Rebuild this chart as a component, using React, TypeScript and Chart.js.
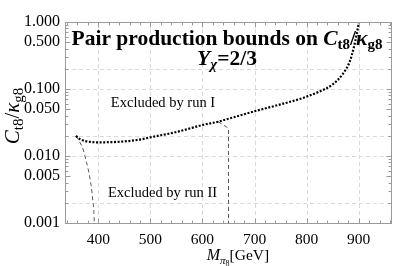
import React, { useEffect, useRef } from "react";
import { Chart, registerables } from "chart.js";

Chart.register(...registerables);

// ---- data ----
const CURVE_X = [357, 365, 375, 390, 400, 425, 450, 480, 500, 550, 600, 630, 650, 700, 750, 787, 800, 825, 850, 870, 883, 890, 896, 900, 903];
const CURVE_Y = [0.0199, 0.0178, 0.0167, 0.0161, 0.016, 0.0161, 0.0165, 0.0176, 0.019, 0.0228, 0.029, 0.0325, 0.036, 0.0465, 0.059, 0.071, 0.077, 0.092, 0.117, 0.17, 0.26, 0.4, 0.65, 0.95, 1.2];
const RUN2A_X = [357.2, 365, 371.2, 376, 380.8, 384.5, 387.3, 389.5, 391.2, 392.3];
const RUN2A_Y = [0.0199, 0.0158, 0.0123, 0.0088, 0.0062, 0.0044, 0.0031, 0.0021, 0.00156, 0.001];
const RUN2B_X = [630, 650, 650];
const RUN2B_Y = [0.0325, 0.026, 0.001];

const X_TICKS = [400, 500, 600, 700, 800, 900];
const Y_TICKS = [0.001, 0.005, 0.01, 0.05, 0.1, 0.5, 1];
const Y_GRID = [0.002, 0.01, 0.02, 0.1, 0.2];
const X_MIN = 336;
const X_MAX = 962;

const SERIF = "'Liberation Serif', 'DejaVu Serif', serif";

type Seg = { t: string; f: string; dy?: number };

function segWidth(ctx: CanvasRenderingContext2D, segs: Seg[]) {
  let w = 0;
  for (const s of segs) {
    ctx.font = s.f;
    w += ctx.measureText(s.t).width;
  }
  return w;
}

function drawSegs(ctx: CanvasRenderingContext2D, segs: Seg[], cx: number, y: number) {
  let x = cx - segWidth(ctx, segs) / 2;
  ctx.textAlign = "left";
  ctx.textBaseline = "alphabetic";
  for (const s of segs) {
    ctx.font = s.f;
    ctx.fillText(s.t, x, y + (s.dy || 0));
    x += ctx.measureText(s.t).width;
  }
}

const decorPlugin = {
  id: "decor",
  beforeDatasetsDraw(chart: any) {
    const { ctx, chartArea: a, scales } = chart;
    const xs = scales.x;
    const ys = scales.y;
    ctx.save();
    ctx.strokeStyle = "#d9d9d9";
    ctx.lineWidth = 1;
    ctx.setLineDash([4, 3]);
    for (const v of X_TICKS) {
      const px = Math.round(xs.getPixelForValue(v)) + 0.5;
      ctx.beginPath();
      ctx.moveTo(px, a.top);
      ctx.lineTo(px, a.bottom);
      ctx.stroke();
    }
    for (const v of Y_GRID) {
      const py = Math.round(ys.getPixelForValue(v)) + 0.5;
      ctx.beginPath();
      ctx.moveTo(a.left, py);
      ctx.lineTo(a.right, py);
      ctx.stroke();
    }
    ctx.restore();
  },
  afterDatasetsDraw(chart: any) {
    const { ctx, chartArea: a, scales } = chart;
    const xs = scales.x;
    const ys = scales.y;
    ctx.save();
    ctx.setLineDash([]);
    ctx.strokeStyle = "#9a9a9a";
    ctx.lineWidth = 1;
    const L = Math.round(a.left) + 0.5;
    const R = Math.round(a.right) + 0.5;
    const T = Math.round(a.top) + 0.5;
    const B = Math.round(a.bottom) + 0.5;
    ctx.strokeRect(L, T, R - L, B - T);
    // x ticks
    for (let v = 340; v <= 960; v += 20) {
      const major = v % 100 === 0;
      const len = major ? 5 : 3;
      const px = Math.round(xs.getPixelForValue(v)) + 0.5;
      ctx.beginPath();
      ctx.moveTo(px, B);
      ctx.lineTo(px, B - len);
      ctx.moveTo(px, T);
      ctx.lineTo(px, T + len);
      ctx.stroke();
    }
    // y ticks
    for (let d = 0.001; d < 1; d *= 10) {
      for (let m = 1; m <= 9; m++) {
        const v = d * m;
        const major = m === 1 || m === 5;
        const len = major ? 5 : 3;
        const py = Math.round(ys.getPixelForValue(v)) + 0.5;
        ctx.beginPath();
        ctx.moveTo(L, py);
        ctx.lineTo(L + len, py);
        ctx.moveTo(R, py);
        ctx.lineTo(R - len, py);
        ctx.stroke();
      }
    }
    ctx.restore();
  },
  afterDraw(chart: any) {
    const { ctx } = chart;
    ctx.save();
    ctx.fillStyle = "#000";
    // title
    const b = (s: number) => `bold ${s}px ${SERIF}`;
    const bi = (s: number) => `italic bold ${s}px ${SERIF}`;
    drawSegs(ctx, [
      { t: "Pair production bounds on ", f: b(21.5) },
      { t: "C", f: bi(21.5) },
      { t: "t8", f: b(15), dy: 4 },
      { t: "/", f: b(21.5) },
      { t: "κ", f: bi(21.5) },
      { t: "g8", f: b(15), dy: 4 },
    ], 227, 45);
    drawSegs(ctx, [
      { t: "Y", f: bi(21.5) },
      { t: "χ", f: bi(15), dy: 4 },
      { t: "=2/3", f: b(21.5) },
    ], 227, 65);
    // annotations
    ctx.font = `14.5px ${SERIF}`;
    ctx.textAlign = "center";
    ctx.textBaseline = "middle";
    ctx.fillText("Excluded by run I", 163, 103);
    ctx.fillText("Excluded by run II", 162.5, 193);
    // x title
    const r = (s: number) => `${s}px ${SERIF}`;
    const it = (s: number) => `italic ${s}px ${SERIF}`;
    drawSegs(ctx, [
      { t: "M", f: it(16) },
      { t: "π", f: it(11), dy: 4 },
      { t: "8", f: r(8), dy: 6 },
      { t: "[GeV]", f: r(15.5) },
    ], 238, 260);
    // y title
    ctx.translate(19, 116);
    ctx.rotate(-Math.PI / 2);
    drawSegs(ctx, [
      { t: "C", f: it(21) },
      { t: "t8", f: r(15), dy: 4 },
      { t: "/", f: r(21) },
      { t: "κ", f: it(21) },
      { t: "g8", f: r(15), dy: 4 },
    ], 0, 0);
    ctx.restore();
  },
};

export default function App() {
  const ref = useRef<HTMLCanvasElement>(null);
  useEffect(() => {
    if (!ref.current) return;
    const pts = (xs: number[], ys: number[]) => xs.map((x, i) => ({ x, y: ys[i] }));
    const chart = new Chart(ref.current, {
      type: "line",
      data: {
        datasets: [
          {
            data: pts(CURVE_X, CURVE_Y),
            borderColor: "#000",
            borderWidth: 2.2,
            borderDash: [2, 1.6],
            pointRadius: 0,
            cubicInterpolationMode: "monotone",
            fill: false,
          },
          {
            data: pts(RUN2A_X, RUN2A_Y),
            borderColor: "#555",
            borderWidth: 1,
            borderDash: [4, 3],
            pointRadius: 0,
            cubicInterpolationMode: "monotone",
            fill: false,
          },
          {
            data: pts(RUN2B_X, RUN2B_Y),
            borderColor: "#555",
            borderWidth: 1,
            borderDash: [4, 3],
            pointRadius: 0,
            tension: 0,
            fill: false,
          },
        ],
      },
      options: {
        animation: false,
        responsive: false,
        events: [],
        layout: { padding: { left: 0, right: 24, top: 22, bottom: 0 } },
        plugins: { legend: { display: false }, tooltip: { enabled: false }, title: { display: false } },
        scales: {
          x: {
            type: "linear",
            min: X_MIN,
            max: X_MAX,
            grid: { display: false, drawTicks: false },
            border: { display: false },
            afterFit: (s: any) => { s.height = 43; },
            afterBuildTicks: (s: any) => { s.ticks = X_TICKS.map((v) => ({ value: v })); },
            ticks: {
              color: "#000",
              font: { family: SERIF, size: 15.5 },
              padding: 8,
              maxRotation: 0,
              autoSkip: false,
              callback: (v: any) => String(v),
            },
          },
          y: {
            type: "logarithmic",
            min: 0.001,
            max: 1,
            grid: { display: false, drawTicks: false },
            border: { display: false },
            afterFit: (s: any) => { s.width = 65; },
            afterBuildTicks: (s: any) => { s.ticks = Y_TICKS.map((v) => ({ value: v })); },
            ticks: {
              color: "#000",
              font: { family: SERIF, size: 16 },
              padding: 5,
              autoSkip: false,
              callback: (v: any) => Number(v).toFixed(3),
            },
          },
        },
      },
      plugins: [decorPlugin],
    } as any);
    return () => chart.destroy();
  }, []);
  return (
    <div style={{ position: "absolute", left: 0, top: 0, width: 415, height: 266 }}>
      <canvas ref={ref} width={415} height={266} style={{ display: "block" }} />
    </div>
  );
}
